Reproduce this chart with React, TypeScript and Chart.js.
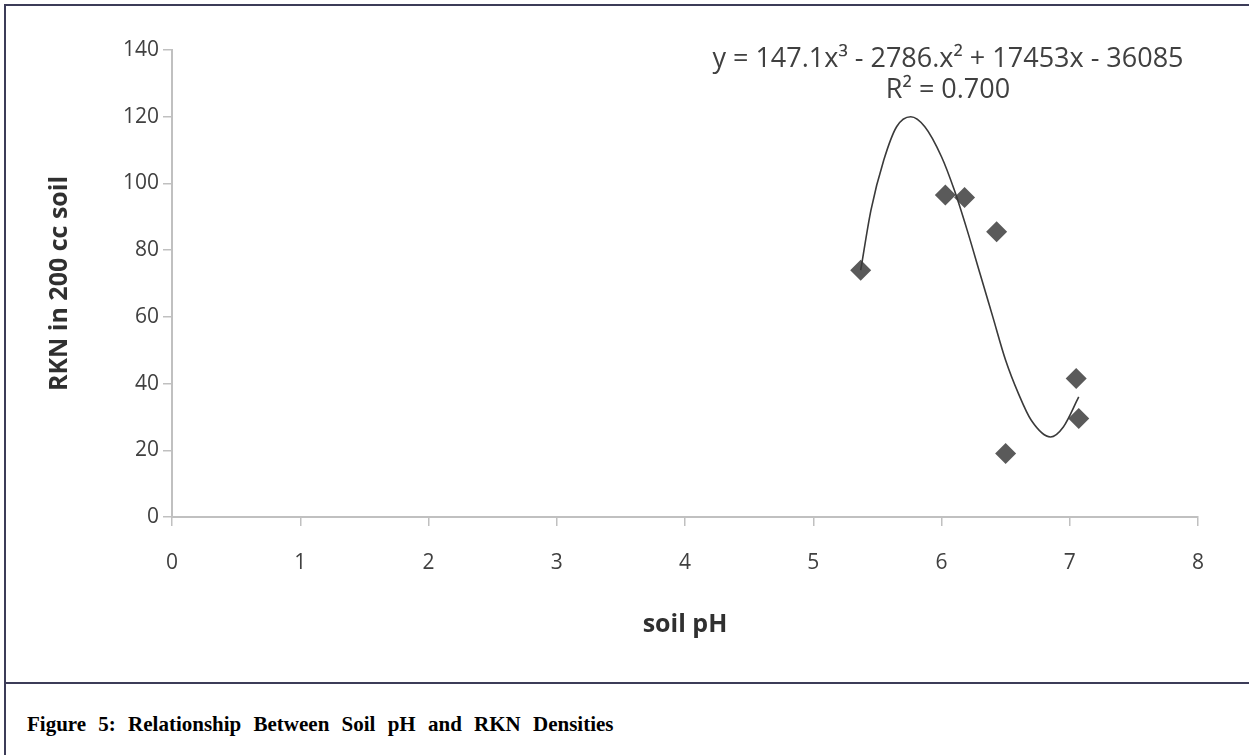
import React, { useEffect, useRef } from 'react';
import { Chart, registerables } from 'chart.js';

Chart.register(...registerables);

// Observed points (soil pH vs RKN per 200 cc soil)
const soilPH = [5.37, 6.03, 6.18, 6.43, 6.5, 7.05, 7.07];
const rknDensity = [74, 96.5, 95.8, 85.5, 19, 41.5, 29.5];

// Polynomial trendline
const trendPH = [5.37, 5.45, 5.55, 5.65, 5.76, 5.87, 6.0, 6.1, 6.2, 6.3, 6.4, 6.5, 6.6, 6.7, 6.85, 6.95, 7.07];
const trendRKN = [74, 92, 107, 117, 120, 117, 108, 98, 86, 73, 60, 47, 37, 29, 24, 27, 36];

const xTickValues = [0, 1, 2, 3, 4, 5, 6, 7, 8];
const yTickValues = [0, 20, 40, 60, 80, 100, 120, 140];

const xTitle = 'soil pH';
const yTitle = 'RKN in 200 cc soil';
const equationLine = 'y = 147.1x³ - 2786.x² + 17453x - 36085';
const rSquaredLine = 'R² = 0.700';
const caption = 'Figure 5: Relationship Between Soil pH and RKN Densities';

const SANS = "'Open Sans', 'DejaVu Sans', sans-serif";
const AXIS_GREY = '#c0c0c0';
const LABEL_GREY = '#404040';
const FRAME = '#3c3c58';

export default function App() {
  const canvasRef = useRef<HTMLCanvasElement | null>(null);

  useEffect(() => {
    const canvas = canvasRef.current;
    if (!canvas) return;
    const chart = new Chart(canvas, {
      type: 'scatter',
      data: {
        datasets: [
          {
            label: 'Poly. trend',
            data: trendPH.map((x, i) => ({ x, y: trendRKN[i] })),
            showLine: true,
            pointRadius: 0,
            borderColor: '#3a3a3a',
            borderWidth: 1.6,
            cubicInterpolationMode: 'monotone',
            fill: false,
          },
          {
            label: 'RKN',
            data: soilPH.map((x, i) => ({ x, y: rknDensity[i] })),
            showLine: false,
            pointStyle: 'rectRot',
            pointRadius: 10.5,
            pointHoverRadius: 10.5,
            backgroundColor: '#5a5a5a',
            borderColor: '#5a5a5a',
            borderWidth: 0,
          },
        ],
      },
      options: {
        responsive: false,
        animation: false,
        events: [],
        layout: { padding: { left: 0, top: 50, right: 51, bottom: 0 } },
        plugins: {
          legend: { display: false },
          tooltip: { enabled: false },
        },
        scales: {
          x: {
            type: 'linear',
            min: 0,
            max: 8,
            afterBuildTicks: (s: any) => {
              s.ticks = xTickValues.map((v) => ({ value: v }));
            },
            afterFit: (s: any) => {
              s.height = 166;
            },
            ticks: {
              autoSkip: false,
              maxRotation: 0,
              padding: 24,
              color: LABEL_GREY,
              font: { family: SANS, size: 21 },
            },
            grid: {
              drawOnChartArea: false,
              drawTicks: true,
              tickLength: 9,
              color: AXIS_GREY,
              lineWidth: 1.5,
            },
            border: { display: true, color: AXIS_GREY, width: 2 },
            title: {
              display: true,
              text: xTitle,
              color: '#303030',
              font: { family: SANS, size: 25, weight: 'bold' },
              padding: { top: 0, bottom: 43 },
            },
          },
          y: {
            type: 'linear',
            min: 0,
            max: 140,
            afterBuildTicks: (s: any) => {
              s.ticks = yTickValues.map((v) => ({ value: v }));
            },
            afterFit: (s: any) => {
              s.width = 172;
            },
            ticks: {
              autoSkip: false,
              padding: 4,
              color: LABEL_GREY,
              font: { family: SANS, size: 21 },
            },
            grid: {
              drawOnChartArea: false,
              drawTicks: true,
              tickLength: 9,
              color: AXIS_GREY,
              lineWidth: 1.5,
            },
            border: { display: true, color: AXIS_GREY, width: 2 },
            title: {
              display: true,
              text: yTitle,
              color: '#303030',
              font: { family: SANS, size: 25, weight: 'bold' },
              padding: { top: 45, bottom: 0 },
            },
          },
        },
      },
    } as any);
    return () => chart.destroy();
  }, []);

  return (
    <div
      style={{
        position: 'fixed',
        left: 0,
        top: 0,
        width: 1249,
        height: 755,
        background: '#ffffff',
        overflow: 'hidden',
      }}
    >
      <canvas
        ref={canvasRef}
        width={1249}
        height={683}
        style={{ position: 'absolute', left: 0, top: 0, width: 1249, height: 683 }}
      />
      <div
        style={{
          position: 'absolute',
          left: 548,
          width: 800,
          top: 41,
          textAlign: 'center',
          fontFamily: SANS,
          fontSize: 27,
          lineHeight: '31px',
          color: LABEL_GREY,
          whiteSpace: 'pre',
        }}
      >
        <div style={{ width: 800, marginLeft: 0 }}>{equationLine}</div>
        <div>{rSquaredLine}</div>
      </div>
      {/* frame */}
      <div style={{ position: 'absolute', left: 4, top: 4, width: 1245, height: 2, background: FRAME }} />
      <div style={{ position: 'absolute', left: 4, top: 4, width: 2, height: 751, background: FRAME }} />
      <div style={{ position: 'absolute', left: 4, top: 682, width: 1245, height: 2, background: FRAME }} />
      <div
        style={{
          position: 'absolute',
          left: 27,
          top: 711,
          fontFamily: "'Liberation Serif', 'Times New Roman', serif",
          fontWeight: 'bold',
          fontSize: 21,
          lineHeight: '26px',
          wordSpacing: '7px',
          color: '#000000',
          whiteSpace: 'pre',
        }}
      >
        {caption}
      </div>
    </div>
  );
}
